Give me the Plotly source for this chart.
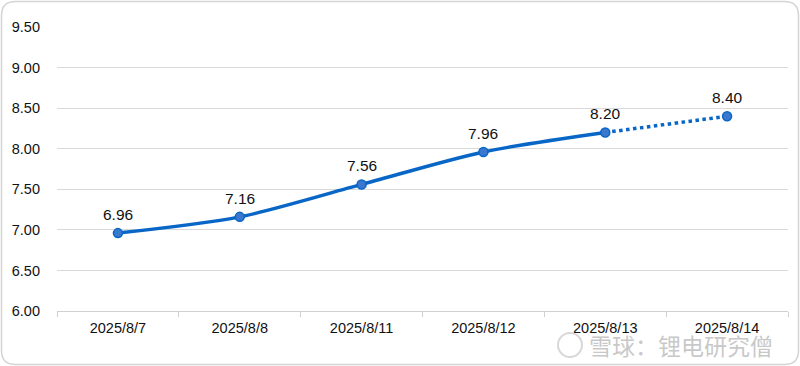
import plotly.graph_objects as go

categories = ["2025/8/7", "2025/8/8", "2025/8/11", "2025/8/12", "2025/8/13", "2025/8/14"]
values = [6.96, 7.16, 7.56, 7.96, 8.20, 8.40]
label_text = ["6.96", "7.16", "7.56", "7.96", "8.20", "8.40"]
y_ticks = [6.0, 6.5, 7.0, 7.5, 8.0, 8.5, 9.0, 9.5]
y_tick_text = ["6.00", "6.50", "7.00", "7.50", "8.00", "8.50", "9.00", "9.50"]

n_actual = 5
line_color = "#0866C6"
marker_fill = "#3A78CF"

fig = go.Figure()
fig.add_trace(go.Scatter(
    x=categories[:n_actual], y=values[:n_actual], mode="lines",
    line=dict(color=line_color, width=3.5, shape="spline", smoothing=0.8),
    hoverinfo="skip", showlegend=False))
fig.add_trace(go.Scatter(
    x=categories[n_actual - 1:], y=values[n_actual - 1:], mode="lines",
    line=dict(color=line_color, width=3.5, dash="dot"),
    hoverinfo="skip", showlegend=False))
fig.add_trace(go.Scatter(
    x=categories, y=values, mode="markers",
    marker=dict(size=9, color=marker_fill, line=dict(color=line_color, width=1.5)),
    showlegend=False))

L, R, T, B = 57, 12, 27, 55
W, H = 800, 366
pw, ph = W - L - R, H - T - B

def px(x):
    return (x - L) / pw

def py(y):
    return (H - B - y) / ph

x0, x1, y0, y1, r = 1.5, 798.5, 1.5, 364.5, 14
path = (f"M {px(x0 + r)} {py(y0)} L {px(x1 - r)} {py(y0)} "
        f"Q {px(x1)} {py(y0)} {px(x1)} {py(y0 + r)} "
        f"L {px(x1)} {py(y1 - r)} Q {px(x1)} {py(y1)} {px(x1 - r)} {py(y1)} "
        f"L {px(x0 + r)} {py(y1)} Q {px(x0)} {py(y1)} {px(x0)} {py(y1 - r)} "
        f"L {px(x0)} {py(y0 + r)} Q {px(x0)} {py(y0)} {px(x0 + r)} {py(y0)} Z")

annotations = [
    dict(x=c, y=v, text=t, xref="x", yref="y", showarrow=False,
         yanchor="bottom", yshift=8,
         font=dict(family="Liberation Sans, Arial", size=15.5, color="#111111"))
    for c, v, t in zip(categories, values, label_text)
]
annotations.append(
    dict(text="雪球：锂电研究僧", xref="paper", yref="paper",
         x=px(587), y=py(345), xanchor="left", yanchor="middle", showarrow=False,
         font=dict(family="Noto Sans CJK SC", size=23, color="rgba(190,190,190,0.85)")))

fig.update_layout(
    width=W, height=H,
    margin=dict(l=L, r=R, t=T, b=B, autoexpand=False),
    paper_bgcolor="white", plot_bgcolor="white",
    font=dict(family="Liberation Sans, Arial", size=14, color="#111111"),
    xaxis=dict(type="category", range=[-0.5, len(categories) - 0.5],
               showgrid=False, showline=True, linecolor="#D0D0D0",
               linewidth=1, ticks="outside", tickson="boundaries", ticklen=5,
               tickcolor="#D0D0D0", tickfont=dict(size=14.5, color="#111111"),
               ticklabelstandoff=4, zeroline=False),
    yaxis=dict(range=[6.0, 9.5], tickvals=y_ticks, ticktext=y_tick_text,
               showgrid=True, gridcolor="#D9D9D9", gridwidth=1, zeroline=False,
               showline=False, ticks="", ticklabelstandoff=16,
               tickfont=dict(size=14.5, color="#111111")),
    shapes=[
        dict(type="path", xref="paper", yref="paper", path=path,
             line=dict(color="#D4D4D4", width=1.5), fillcolor="rgba(0,0,0,0)", layer="below"),
        dict(type="circle", xref="paper", yref="paper",
             x0=px(558), x1=px(582), y0=py(357), y1=py(333),
             line=dict(color="#D8D8D8", width=2)),
    ],
    annotations=annotations,
)

fig.write_html("out.html", config={"displayModeBar": False})

with open("out.html", "r", encoding="utf-8") as f:
    html = f.read()
html = html.replace("<head>", "<head><style>html,body{margin:0;padding:0;overflow:hidden;}</style>", 1)
with open("out.html", "w", encoding="utf-8") as f:
    f.write(html)
